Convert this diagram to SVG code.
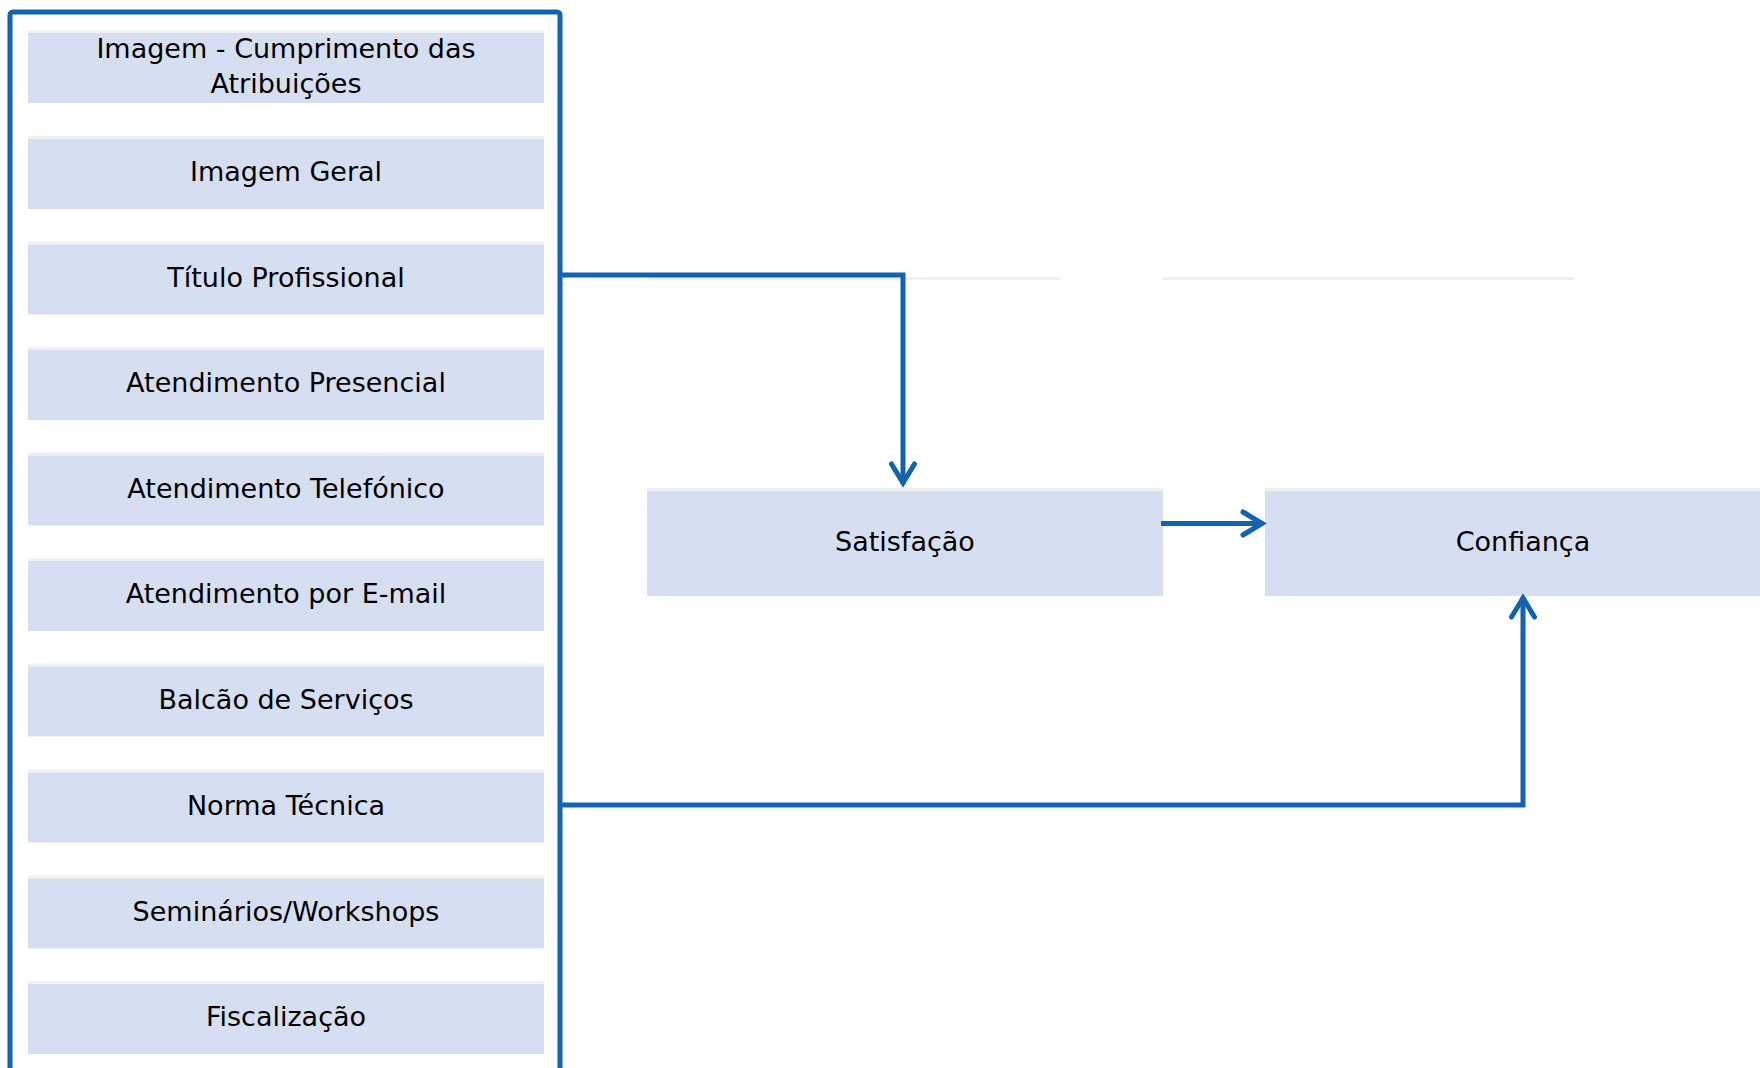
<svg xmlns="http://www.w3.org/2000/svg" width="1760" height="1068" viewBox="0 0 1760 1068">
  <style>
    .box { fill: #d6dff1; }
    .strip { fill: #f0f0f0; }
    .lbl { font-family: "DejaVu Sans", Verdana, sans-serif; font-size: 27px; fill: #000; text-anchor: middle; }
    .conn { fill: none; stroke: #1162b0; stroke-width: 5; stroke-linejoin: miter; }
    .frame { fill: none; stroke: #1162b0; stroke-width: 5; }
  </style>
  <defs>
    <marker id="arr" markerUnits="userSpaceOnUse" markerWidth="40" markerHeight="40" viewBox="-30 -20 40 40" refX="0" refY="0" orient="auto" overflow="visible">
      <path d="M -20,-11.5 L -1,0 L -20,11.5" fill="none" stroke="#1162b0" stroke-width="5" stroke-linecap="round" stroke-linejoin="miter"/>
    </marker>
  </defs>
  <rect width="1760" height="1068" fill="#ffffff"/>

  <!-- faint strips -->
  <rect class="strip" x="647" y="277" width="413" height="3"/>
  <rect class="strip" x="1163" y="277" width="412" height="3"/>

  <g id="frame">
    <rect class="frame" x="10" y="12" width="550" height="1100" rx="3"/>
  </g>

  <g id="n1"><rect class="strip" x="28" y="30" width="516" height="3"/><rect class="box" x="28" y="33" width="516" height="70"/>
    <text class="lbl" x="286" y="58">Imagem - Cumprimento das</text><text class="lbl" x="286" y="93">Atribuições</text></g>
  <g id="n2"><rect class="strip" x="28" y="136" width="516" height="3"/><rect class="box" x="28" y="139" width="516" height="70"/>
    <text class="lbl" x="286" y="181">Imagem Geral</text></g>
  <g id="n3"><rect class="strip" x="28" y="241.5" width="516" height="3"/><rect class="box" x="28" y="244.5" width="516" height="70"/>
    <text class="lbl" x="286" y="286.5">Título Profissional</text></g>
  <g id="n4"><rect class="strip" x="28" y="347" width="516" height="3"/><rect class="box" x="28" y="350" width="516" height="70"/>
    <text class="lbl" x="286" y="392">Atendimento Presencial</text></g>
  <g id="n5"><rect class="strip" x="28" y="452.5" width="516" height="3"/><rect class="box" x="28" y="455.5" width="516" height="70"/>
    <text class="lbl" x="286" y="497.5">Atendimento Telefónico</text></g>
  <g id="n6"><rect class="strip" x="28" y="558" width="516" height="3"/><rect class="box" x="28" y="561" width="516" height="70"/>
    <text class="lbl" x="286" y="603">Atendimento por E-mail</text></g>
  <g id="n7"><rect class="strip" x="28" y="663.5" width="516" height="3"/><rect class="box" x="28" y="666.5" width="516" height="70"/>
    <text class="lbl" x="286" y="708.5">Balcão de Serviços</text></g>
  <g id="n8"><rect class="strip" x="28" y="769.5" width="516" height="3"/><rect class="box" x="28" y="772.5" width="516" height="70"/>
    <text class="lbl" x="286" y="814.5">Norma Técnica</text></g>
  <g id="n9"><rect class="strip" x="28" y="875.5" width="516" height="3"/><rect class="box" x="28" y="878.5" width="516" height="70"/>
    <text class="lbl" x="286" y="920.5">Seminários/Workshops</text></g>
  <g id="n10"><rect class="strip" x="28" y="981" width="516" height="3"/><rect class="box" x="28" y="984" width="516" height="70"/>
    <text class="lbl" x="286" y="1026">Fiscalização</text></g>

  <g id="satisfacao"><rect class="strip" x="647" y="488" width="516" height="3"/><rect class="box" x="647" y="491" width="516" height="105"/>
    <text class="lbl" x="905" y="551">Satisfação</text></g>
  <g id="confianca"><rect class="strip" x="1265" y="488" width="516" height="3"/><rect class="box" x="1265" y="491" width="516" height="105"/>
    <text class="lbl" x="1523" y="551">Confiança</text></g>

  <g id="connectors">
    <path class="conn" d="M 560,275 H 903 V 484" marker-end="url(#arr)"/>
    <path class="conn" d="M 1161,523.5 H 1263" stroke-width="5.5" marker-end="url(#arr)"/>
    <path class="conn" d="M 560,805 H 1523 V 597" marker-end="url(#arr)"/>
  </g>
</svg>
